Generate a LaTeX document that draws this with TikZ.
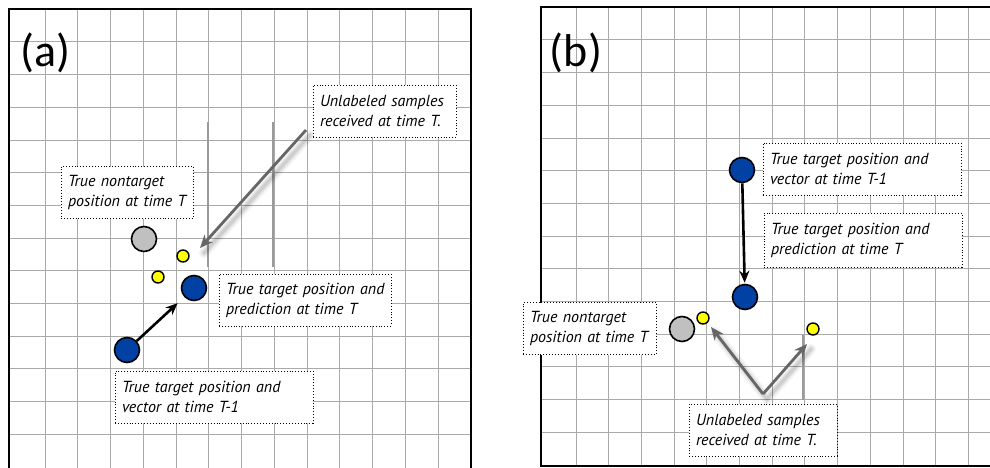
\documentclass[tikz,border=0pt]{standalone}
\usepackage{fontspec}
\setmainfont{PT Sans}
\newfontfamily\lblfont{Carlito}
\usetikzlibrary{arrows.meta}
\definecolor{gridc}{HTML}{AAAAAA}
\definecolor{darkgridc}{HTML}{9A9A9A}
\definecolor{tblue}{HTML}{0041A3}
\definecolor{ngrey}{HTML}{C0C0C0}
\definecolor{syel}{HTML}{FFFF00}
\definecolor{agrey}{HTML}{666666}
\newcommand\twolines[2]{\mbox{#1}\\\mbox{#2}}
\tikzset{
 gridline/.style={gridc, line width=1pt},
 darkseg/.style={darkgridc, line width=1.3pt},
 frameline/.style={black, line width=2.6pt},
 bigdot/.style={circle, draw=black, line width=1.6pt, minimum size=25pt, inner sep=0pt},
 smalldot/.style={circle, draw=black, line width=1.4pt, fill=syel, minimum size=12pt, inner sep=0pt},
 tgt/.style={bigdot, fill=tblue},
 ntgt/.style={bigdot, fill=ngrey},
 lbl/.style={draw=black, dotted, line width=0.9pt, fill=white, align=left, inner xsep=7pt, inner ysep=0pt, minimum height=52pt, font=\fontsize{16}{20}\selectfont\itshape},
 panellbl/.style={inner sep=0pt, font=\lblfont\fontsize{46}{46}\selectfont},
 blackarrow/.style={-{Stealth[length=12pt,width=10pt]}, line width=2.6pt, black},
 greyarrow/.style={-{Stealth[length=13pt,width=11pt]}, line width=2.8pt, agrey},
 shadowA/.style={black, opacity=0.05, line width=10pt, line cap=round},
 shadowB/.style={black, opacity=0.07, line width=6pt, line cap=round},
 shadowC/.style={black, opacity=0.08, line width=3pt, line cap=round},
}
\begin{document}
\begin{tikzpicture}[x=1pt,y=-1pt]
\useasboundingbox (0,0) rectangle (990,468);
\fill[white] (0,0) rectangle (990,468);

% ---------------- panel (a) grid ----------------
\foreach \k in {0,...,12} {
  \draw[gridline] ({45+32.75*\k},9) -- ({45+32.75*\k},468);
  \draw[gridline] (9,{42+32.67*\k}) -- (471,{42+32.67*\k});
}
\draw[darkseg] (208,122) -- (208,267);
\draw[darkseg] (273,122) -- (273,267);
\draw[frameline] (9,470) -- (9,9) -- (471,9) -- (471,470);

% ---------------- panel (b) grid ----------------
\foreach \k in {0,...,12} {
  \draw[gridline] ({576+32.7*\k},7) -- ({576+32.7*\k},466);
  \draw[gridline] (541,{40+32.67*\k}) -- (992,{40+32.67*\k});
}
\draw[darkseg] (803,335) -- (803,400);
\draw[frameline] (992,7) -- (541,7) -- (541,466) -- (992,466);

% ---------------- panel labels ----------------
\node[panellbl] (la) at (45.5,53) {(a)};
\node[panellbl] (lb) at (576,53) {(b)};

% ---------------- panel (a) ----------------
\node[ntgt] (ant) at (144,239) {};
\node[smalldot] (ay1) at (183,256) {};
\node[smalldot] (ay2) at (158,277) {};
\node[tgt] (at) at (194,288) {};
\node[tgt] (atp) at (127,350) {};

\coordinate (astart) at (306,130);
\coordinate (atip) at (200,248);
\foreach \s in {shadowA,shadowB,shadowC}
  \draw[\s, transform canvas={xshift=4pt,yshift=-5pt}] (astart) -- (atip);
\draw[greyarrow] (astart) -- (atip);

\draw[blackarrow, shorten >=9pt] (atp) -- (at);

\node[lbl, text width=129pt] (a1) at (384.5,111) {\twolines{Unlabeled samples}{received at time T.}};
\node[lbl, text width=118pt] (a2) at (127,192.5) {\twolines{True nontarget}{position at time T}};
\node[lbl, text width=158pt] (a3) at (305,300) {\twolines{True target position and}{prediction at time T}};
\node[lbl, text width=184pt] (a4) at (214,397) {\twolines{True target position and}{vector at time T-1}};

% ---------------- panel (b) ----------------
\node[tgt] (btp) at (742,170) {};
\node[tgt] (bt) at (745,297) {};
\node[ntgt] (bnt) at (682,329) {};
\node[smalldot] (by1) at (703,318) {};
\node[smalldot] (by2) at (813,329) {};

\draw[blackarrow, shorten >=1pt] (btp) -- (bt);

\coordinate (bv) at (763,394);
\coordinate (btip1) at (711,327);
\coordinate (btip2) at (807,344);
\foreach \s in {shadowA,shadowB,shadowC}
  \draw[\s, transform canvas={xshift=4pt,yshift=-5pt}] (btip1) -- (bv) -- (btip2);
\draw[greyarrow] (bv) -- (btip1);
\draw[greyarrow] (bv) -- (btip2);

\node[lbl, text width=184pt] (b1) at (862,169) {\twolines{True target position and}{vector at time T-1}};
\node[lbl, text width=184pt, minimum height=54pt] (b2) at (863,240) {\twolines{True target position and}{prediction at time T}};
\node[lbl, text width=119pt] (b3) at (589.5,328.5) {\twolines{True nontarget}{position at time T}};
\node[lbl, text width=134pt] (b4) at (763,430) {\twolines{Unlabeled samples}{received at time T.}};
\end{tikzpicture}
\end{document}
